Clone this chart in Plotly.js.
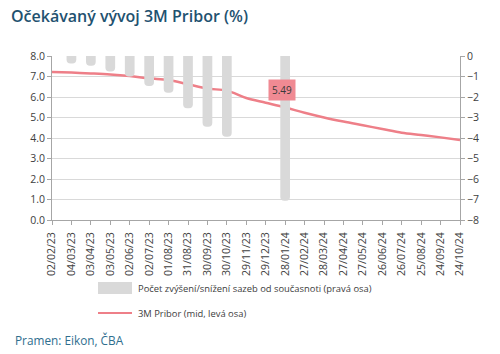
<!DOCTYPE html>
<html><head><meta charset="utf-8">
<script src="https://cdn.plot.ly/plotly-3.0.1.min.js"></script>
<style>body{margin:0;background:#fff}#c{width:500px;height:354px}</style>
</head><body><div id="c"></div>
<script>
const dates = ["02/02/23","04/03/23","03/04/23","03/05/23","02/06/23","02/07/23","01/08/23","31/08/23","30/09/23","30/10/23","29/11/23","29/12/23","28/01/24","27/02/24","28/03/24","27/04/24","27/05/24","26/06/24","26/07/24","25/08/24","24/09/24","24/10/24"];
const pribor = [7.22,7.19,7.15,7.10,7.02,6.91,6.83,6.62,6.41,6.31,5.95,5.72,5.49,5.23,5.00,4.80,4.62,4.44,4.26,4.15,4.03,3.90];
const barDates = ["04/03/23","03/04/23","03/05/23","02/06/23","02/07/23","01/08/23","31/08/23","30/09/23","30/10/23","28/01/24"];
const rateMoves = [-0.36,-0.47,-0.76,-1.0,-1.46,-1.79,-2.55,-3.45,-3.94,-7.06];
const labelDate = "28/01/24";
const labelValue = 5.49;

const idx = d => dates.indexOf(d);
const xi = dates.map((d,i)=>i);
const font = "Open Sans, sans-serif";
const PH = 164, PW = 408, PB = 220, PL = 52;
const py = p => (PB - p) / PH;
const px = p => (p - PL) / PW;
const traces = [
  {type:'bar', x: barDates.map(idx), y: rateMoves, yaxis:'y2', width:0.5,
   marker:{color:'#D9D9D9', cornerradius:5}, name:'Počet zvýšení/snížení sazeb od současnoti (pravá osa)', hoverinfo:'skip'},
  {type:'scatter', mode:'lines', x: xi, y: pribor, line:{color:'#EE7F88', width:2.5, shape:'spline'},
   name:'3M Pribor (mid, levá osa)'}
];
const layout = {
  width:500, height:354, margin:{l:52, r:40, t:56, b:134},
  paper_bgcolor:'#fff', plot_bgcolor:'#fff', showlegend:false,
  font:{family:font, color:'#404040', size:10},
  title:{text:'Očekávaný vývoj 3M Pribor (%)', x:0.022, xanchor:'left', y:0.955, yanchor:'middle',
         font:{family:font, size:16, color:'#1F5270', weight:600}},
  xaxis:{range:[0,21], tickvals:xi, ticktext:dates, tickangle:-90, ticks:'outside', ticklen:4, tickcolor:'#A6A6A6',
         ticklabelstandoff:3,
         showline:true, linecolor:'#A6A6A6', linewidth:1, showgrid:false, zeroline:false, tickfont:{size:10.5, color:'#404040'}},
  yaxis:{range:[0,8], dtick:1, tickformat:'.1f', ticks:'outside', ticklen:4, tickcolor:'#A6A6A6', showline:true,
         linecolor:'#A6A6A6', gridcolor:'#D9D9D9', zeroline:false, tickfont:{size:10.5}},
  yaxis2:{range:[-8,0], dtick:1, overlaying:'y', side:'right', ticks:'outside', ticklen:4, tickcolor:'#A6A6A6',
          showline:true, linecolor:'#A6A6A6', showgrid:false, zeroline:false, tickfont:{size:10.5}},
  annotations:[
    {x: idx(labelDate), y: labelValue, xref:'x', yref:'y', text: labelValue.toFixed(2), showarrow:false,
     yshift:17, xshift:-3, bgcolor:'#F08A93', font:{size:10, color:'#3A3A3A'}, borderpad:3},
    {xref:'paper', yref:'paper', x:px(136), y:py(288), xanchor:'left', yanchor:'middle', showarrow:false,
     text:'Počet zvýšení/snížení sazeb od současnoti (pravá osa)', font:{size:9.4}},
    {xref:'paper', yref:'paper', x:px(136), y:py(313), xanchor:'left', yanchor:'middle', showarrow:false,
     text:'3M Pribor (mid, levá osa)', font:{size:9.4}},
    {xref:'paper', yref:'paper', x:px(13), y:py(340), xanchor:'left', yanchor:'middle', showarrow:false,
     text:'Pramen: Eikon, ČBA', font:{size:11.8, color:'#2E6E8E'}}
  ],
  shapes:[
    {type:'rect', xref:'paper', yref:'paper', x0:px(98), x1:px(132), y0:py(294), y1:py(282),
     fillcolor:'#D9D9D9', line:{width:0}},
    {type:'line', xref:'paper', yref:'paper', x0:px(98), x1:px(132), y0:py(313), y1:py(313),
     line:{color:'#EE7F88', width:2}}
  ]
};
Plotly.newPlot('c', traces, layout, {staticPlot:true, displayModeBar:false});
</script></body></html>
